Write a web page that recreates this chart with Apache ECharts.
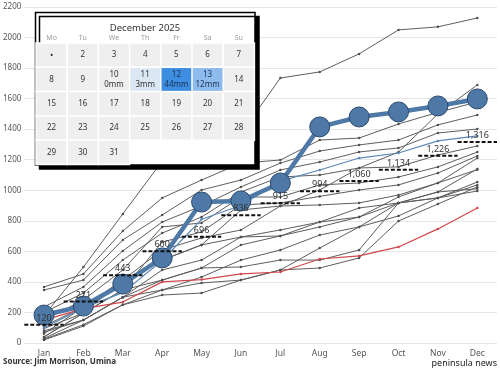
<!DOCTYPE html>
<html>
<head>
<meta charset="utf-8">
<script src="https://cdn.jsdelivr.net/npm/echarts@6/dist/echarts.min.js"></script>
<style>html,body{margin:0;padding:0;background:#fff;}#c{width:500px;height:368px;}</style>
</head>
<body>
<div id="c"></div>
<script>
const months = ['Jan','Feb','Mar','Apr','May','Jun','Jul','Aug','Sep','Oct','Nov','Dec'];
const yTicks = [0,200,400,600,800,1000,1200,1400,1600,1800,2000,2200];
const avgValues = [120,271,443,600,696,836,915,994,1060,1134,1226,1316];
const year2025 = [183,242,386,557,923,930,1048,1415,1480,1513,1552,1598];
const redYear = [150,225,268,400,415,452,465,550,570,629,747,884];
const blueYear = [100,230,330,540,810,900,1060,1133,1211,1244,1323,1356];
const grayLines = [
  [180,497,845,1190,1280,1371,1735,1775,1893,2050,2070,2128],
  [367,452,733,950,1067,1178,1198,1329,1342,1434,1510,1578],
  [347,412,675,838,1002,1067,1178,1257,1297,1329,1428,1493],
  [236,367,603,792,897,1022,1133,1185,1251,1277,1375,1401],
  [60,236,412,609,688,740,897,1002,1146,1250,1500,1690],
  [200,327,543,720,825,989,1087,1100,1146,1153,1231,1290],
  [150,282,478,760,786,956,956,1035,1048,1087,1153,1250],
  [40,196,347,661,727,904,917,960,1002,1035,1113,1225],
  [110,236,412,543,642,871,897,904,917,969,1048,1211],
  [30,150,300,478,543,694,740,792,884,917,989,1140],
  [95,196,347,412,491,642,701,760,825,956,1048,1135],
  [70,150,300,347,432,543,609,707,760,832,950,1054],
  [20,111,250,314,327,412,478,491,557,799,910,1022],
  [80,150,300,412,491,498,543,543,609,917,989,1010],
  [25,120,250,347,393,412,478,622,760,917,950,995],
  [40,196,412,543,642,694,701,792,825,917,950,1035]
];
const calDays = ['2025-12-10','2025-12-11','2025-12-12','2025-12-13'];
const calMm = [0,3,44,12];
const calTitle = 'December 2025';
const FONT = 'Noto Sans, DejaVu Sans, sans-serif';

function fmt(v){ return v.toLocaleString('en-US'); }

const series = [];
grayLines.forEach(function(d){
  series.push({type:'line', data:d, z:2, silent:true, symbol:'circle', symbolSize:2.5,
    lineStyle:{color:'#5e5e5e', width:1}, itemStyle:{color:'#505050'}});
});
series.push({type:'line', data:blueYear, z:3, symbol:'circle', symbolSize:2.5,
  lineStyle:{color:'#5b87b8', width:1.2}, itemStyle:{color:'#5b87b8'}});
series.push({type:'line', data:redYear, z:3, symbol:'circle', symbolSize:2.5,
  lineStyle:{color:'#d0474a', width:1.2}, itemStyle:{color:'#d0474a'}});
series.push({type:'line', data:year2025, z:4, symbol:'circle', symbolSize:20,
  lineStyle:{color:'#4e79a7', width:4.5},
  itemStyle:{color:'#4e79a7', borderColor:'#2b4a6f', borderWidth:1}});
series.push({type:'custom', z:5, data:avgValues.map(function(v,i){return [i,v];}),
  encode:{x:0,y:1},
  renderItem:function(params, api){
    const p = api.coord([api.value(0), api.value(1)]);
    const w = api.size([1,0])[0];
    return {type:'group', children:[
      {type:'line', shape:{x1:p[0]-w/2, y1:p[1], x2:p[0]+w/2, y2:p[1]},
       style:{stroke:'#111', lineWidth:2, lineDash:[4,2]}},
      {type:'text', x:p[0], y:p[1]-2,
       style:{text:fmt(api.value(1)), fill:'#333', font:'9px '+FONT, align:'center', verticalAlign:'bottom'}}
    ]};
  }});

const calData = [];
for (let d=1; d<=31; d++){
  const ds = '2025-12-' + (d<10?'0'+d:d);
  const k = calDays.indexOf(ds);
  calData.push([ds, k>=0 ? calMm[k] : -1, d]);
}
function cellColor(mm){
  if (mm >= 30) return '#3d8de0';
  if (mm >= 10) return '#8dbbee';
  if (mm >= 1) return '#dbe7f3';
  return null;
}
series.push({type:'custom', coordinateSystem:'calendar', z:22, data:calData,
  renderItem:function(params, api){
    const p = api.coord(api.value(0));
    const cs = params.coordSys;
    const mm = api.value(1);
    const day = api.value(2);
    const ch = [];
    const col = mm >= 0 ? cellColor(mm) : null;
    if (col) ch.push({type:'rect', shape:{x:p[0]-cs.cellWidth/2+0.75, y:p[1]-cs.cellHeight/2+0.75, width:cs.cellWidth-1.5, height:cs.cellHeight-1.5}, style:{fill:col}});
    const dark = mm >= 10 ? '#1b3354' : '#333';
    const label = day === 1 ? '•' : String(day);
    if (mm >= 0){
      ch.push({type:'text', x:p[0], y:p[1]-4.5, style:{text:label, fill:dark, font:'8px '+FONT, align:'center', verticalAlign:'middle'}});
      ch.push({type:'text', x:p[0], y:p[1]+5, style:{text:mm+'mm', fill:dark, font:'8px '+FONT, align:'center', verticalAlign:'middle'}});
    } else {
      ch.push({type:'text', x:p[0], y:p[1], style:{text:label, fill:'#333', font:(day===1?'9px ':'8px ')+FONT, align:'center', verticalAlign:'middle'}});
    }
    return {type:'group', children:ch};
  }});

const chart = echarts.init(document.getElementById('c'), null, {renderer:'canvas'});
chart.setOption({
  animation:false,
  backgroundColor:'#fff',
  textStyle:{fontFamily:FONT},
  grid:{left:23, right:3, top:7, bottom:25, containLabel:false},
  xAxis:{type:'category', data:months, boundaryGap:true,
    axisLine:{show:false}, axisTick:{show:false},
    axisLabel:{color:'#555', fontSize:8.5, margin:6}},
  yAxis:{type:'value', min:yTicks[0], max:yTicks[yTicks.length-1], interval:200,
    axisLine:{show:false}, axisTick:{show:false},
    axisLabel:{color:'#555', fontSize:8, margin:3, formatter:function(v){return String(v);}},
    splitLine:{lineStyle:{color:'#e6e6e6', width:1}}},
  calendar:{z:21, orient:'vertical', left:36, top:43, cellSize:[31.2,24.3], range:'2025-12',
    itemStyle:{color:'#efefef', borderColor:'#fff', borderWidth:1.5},
    splitLine:{show:false},
    dayLabel:{firstDay:1, position:'start', margin:2, color:'#9a9a9a', fontSize:7,
      nameMap:['Su','Mo','Tu','We','Th','Fr','Sa']},
    monthLabel:{show:false}, yearLabel:{show:false}},
  graphic:[
    {type:'rect', z:20, shape:{x:35.5, y:12.5, width:219.5, height:152.5},
     style:{fill:'#fff', stroke:'#000', lineWidth:1.5, shadowColor:'#000', shadowOffsetX:4, shadowOffsetY:4, shadowBlur:0}},
    {type:'text', z:23, x:145, y:28, style:{text:calTitle, fill:'#333', font:'9.5px '+FONT, align:'center', verticalAlign:'middle'}},
    {type:'text', z:23, x:3, y:362, style:{text:'Source: Jim Morrison, Umina', fill:'#333', font:'bold 8px '+FONT, align:'left', verticalAlign:'middle'}},
    {type:'text', z:23, x:497, y:363, style:{text:'peninsula news', fill:'#222', font:'9px '+FONT, align:'right', verticalAlign:'middle'}}
  ],
  series:series
});
</script>
</body>
</html>
